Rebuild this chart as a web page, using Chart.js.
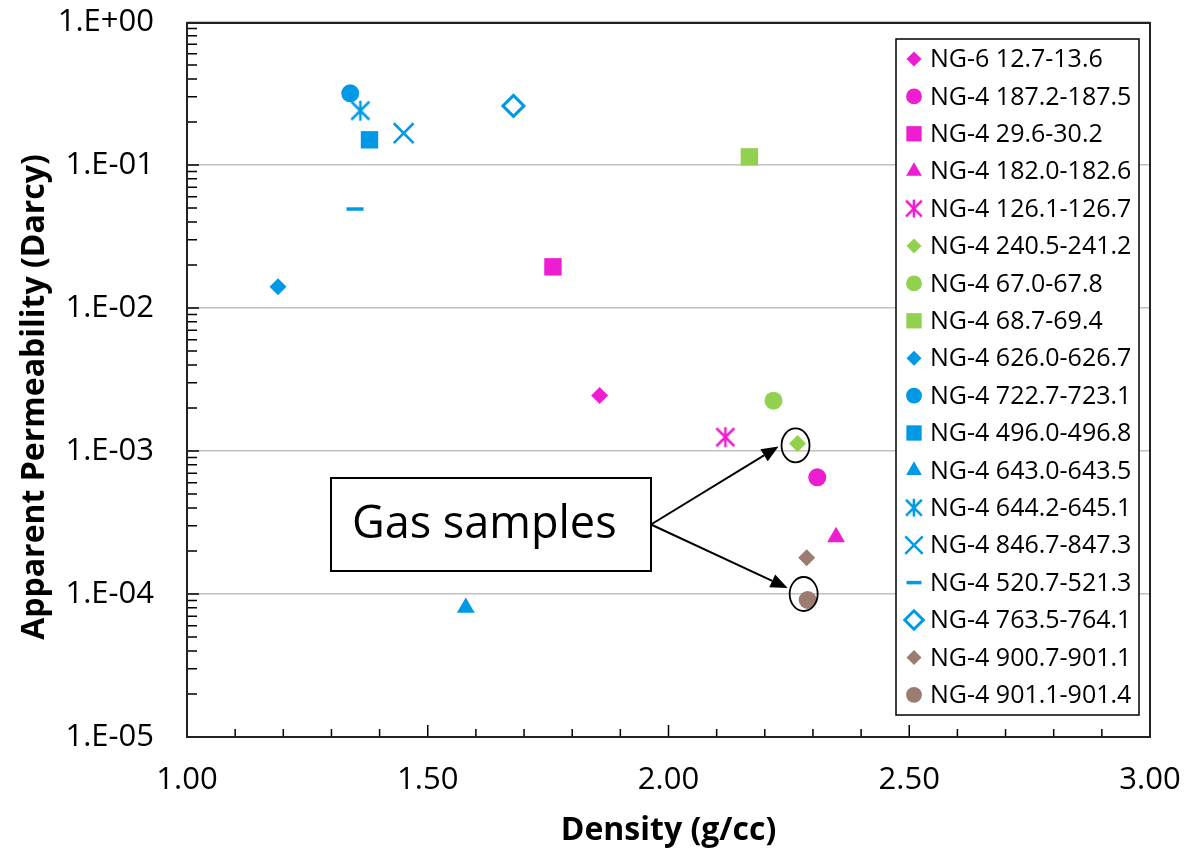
<!DOCTYPE html>
<html>
<head>
<meta charset="utf-8">
<script src="https://cdn.jsdelivr.net/npm/chart.js@4.4.1/dist/chart.umd.min.js"></script>
<style>
  html, body { margin: 0; padding: 0; background: #fff; }
  #wrap { width: 1186px; height: 854px; }
</style>
</head>
<body>
<div id="wrap"><canvas id="permChart" width="1186" height="854"></canvas></div>
<script>
// sample names (legend order)
const sampleLabels = [
  'NG-6 12.7-13.6', 'NG-4 187.2-187.5', 'NG-4 29.6-30.2', 'NG-4 182.0-182.6',
  'NG-4 126.1-126.7', 'NG-4 240.5-241.2', 'NG-4 67.0-67.8', 'NG-4 68.7-69.4',
  'NG-4 626.0-626.7', 'NG-4 722.7-723.1', 'NG-4 496.0-496.8', 'NG-4 643.0-643.5',
  'NG-4 644.2-645.1', 'NG-4 846.7-847.3', 'NG-4 520.7-521.3', 'NG-4 763.5-764.1',
  'NG-4 900.7-901.1', 'NG-4 901.1-901.4'
];
// density (g/cc), one value per sample
const densityValues = [
  1.857, 2.309, 1.760, 2.348, 2.118, 2.268, 2.218, 2.168, 1.189,
  1.339, 1.379, 1.579, 1.360, 1.450, 1.349, 1.678, 2.287, 2.289
];
// apparent permeability (Darcy)
const permValues = [
  0.00244, 0.000655, 0.0194, 0.00025, 0.00125, 0.00113, 0.00225, 0.114, 0.0141,
  0.317, 0.150, 0.0000802, 0.240, 0.167, 0.0492, 0.259, 0.000179, 0.0000908
];
const xTickValues = [1.0, 1.5, 2.0, 2.5, 3.0];
const yTickValues = [1, 0.1, 0.01, 0.001, 0.0001, 0.00001];
const gasSampleIdx = [5, 17];
const annotationText = 'Gas samples';

const MAGENTA = '#EE1DD1', GREEN = '#92D050', BLUE = '#0099E6', BROWN = '#9C7B70';
const markerStyles = [
  [MAGENTA, 'diamond'], [MAGENTA, 'circle'], [MAGENTA, 'square'], [MAGENTA, 'triangle'],
  [MAGENTA, 'asterisk'], [GREEN, 'diamond'], [GREEN, 'circle'], [GREEN, 'square'],
  [BLUE, 'diamond'], [BLUE, 'circle'], [BLUE, 'square'], [BLUE, 'triangle'],
  [BLUE, 'asterisk'], [BLUE, 'cross'], [BLUE, 'dash'], [BLUE, 'openDiamond'],
  [BROWN, 'diamond'], [BROWN, 'circle']
];

// 6-armed asterisk like the excel "star" marker
function asteriskImage(color, size) {
  const c = document.createElement('canvas');
  c.width = Math.ceil(size + 4);
  c.height = Math.ceil(size + 4);
  const g = c.getContext('2d');
  const o = 2, s = size;
  g.strokeStyle = color;
  g.lineWidth = 2.5;
  g.beginPath();
  g.moveTo(o, o); g.lineTo(o + s, o + s);
  g.moveTo(o + s, o); g.lineTo(o, o + s);
  g.moveTo(o + s / 2, o - 1); g.lineTo(o + s / 2, o + s + 1);
  g.stroke();
  return c;
}

function pointOpts(color, shape, k) {
  const base = { backgroundColor: color, borderColor: color, borderWidth: 0, rotation: 0 };
  switch (shape) {
    case 'diamond': return { ...base, pointStyle: 'rectRot', radius: 8.5 * k };
    case 'circle': return { ...base, pointStyle: 'circle', radius: 9 * k };
    case 'square': return { ...base, pointStyle: 'rect', radius: 12.3 * k };
    case 'triangle': return { ...base, pointStyle: 'triangle', radius: 10.3 * k };
    case 'asterisk': return { ...base, pointStyle: asteriskImage(color, 18 * k), radius: 9 * k };
    case 'cross': return { ...base, pointStyle: 'crossRot', radius: 14 * k, borderWidth: 2.5 };
    case 'dash': return { ...base, pointStyle: 'line', radius: 8.5 * k, borderWidth: 3.5 };
    case 'openDiamond': return { ...base, pointStyle: 'rectRot', radius: 10.5 * k, backgroundColor: '#fff', borderWidth: 3 };
  }
}

function fmtExp(v) {
  const e = Math.round(Math.log10(v));
  return '1.E' + (e >= 0 ? '+' : '-') + String(Math.abs(e)).padStart(2, '0');
}

const datasets = sampleLabels.map((label, i) => {
  const p = pointOpts(markerStyles[i][0], markerStyles[i][1], 1);
  return {
    label: label,
    data: [{ x: densityValues[i], y: permValues[i] }],
    pointStyle: p.pointStyle,
    pointRadius: p.radius,
    pointHoverRadius: p.radius,
    pointBackgroundColor: p.backgroundColor,
    pointBorderColor: p.borderColor,
    pointBorderWidth: p.borderWidth,
    pointHoverBorderWidth: p.borderWidth,
    showLine: false
  };
});

const framePlugin = {
  id: 'frame',
  beforeDatasetsDraw(chart) {
    const { ctx, chartArea: a, scales } = chart;
    ctx.save();
    ctx.strokeStyle = '#000';
    ctx.lineWidth = 1.5;
    ctx.beginPath();
    // minor ticks on the y axis (inside)
    for (let d = -5; d < 0; d++) {
      for (let m = 2; m <= 9; m++) {
        const y = scales.y.getPixelForValue(m * Math.pow(10, d));
        ctx.moveTo(a.left, y); ctx.lineTo(a.left + 10, y);
      }
      if (d > -5) {
        const y = scales.y.getPixelForValue(Math.pow(10, d));
        ctx.moveTo(a.left, y); ctx.lineTo(a.left + 12, y);
      }
    }
    // ticks on the x axis (inside)
    for (let t = 11; t < 30; t++) {
      const x = scales.x.getPixelForValue(t / 10);
      const len = t % 5 === 0 ? 12 : 8;
      ctx.moveTo(x, a.bottom); ctx.lineTo(x, a.bottom - len);
    }
    ctx.stroke();
    ctx.lineWidth = 2;
    ctx.strokeStyle = '#222';
    ctx.strokeRect(a.left, a.top + 1, a.right - a.left, a.bottom - a.top - 1);
    ctx.restore();
  },
  afterDraw(chart) {
    const { ctx, scales } = chart;
    ctx.save();

    // y axis title, drawn by hand so it can sit a bit lower like the original
    ctx.save();
    ctx.translate(35, 397);
    ctx.rotate(-Math.PI / 2);
    ctx.fillStyle = '#000';
    ctx.font = 'bold 32px "Open Sans"';
    ctx.textAlign = 'center';
    ctx.textBaseline = 'middle';
    ctx.fillText('Apparent Permeability (Darcy)', 0, 0);
    ctx.restore();

    // annotation: box, ellipses and arrows
    const box = { l: 331, t: 478, r: 651, b: 571 };
    ctx.fillStyle = '#fff';
    ctx.fillRect(box.l, box.t, box.r - box.l, box.b - box.t);
    ctx.strokeStyle = '#000';
    ctx.lineWidth = 2;
    ctx.strokeRect(box.l, box.t, box.r - box.l, box.b - box.t);
    ctx.fillStyle = '#000';
    ctx.font = '45px "Open Sans"';
    ctx.textBaseline = 'alphabetic';
    ctx.textAlign = 'left';
    ctx.fillText(annotationText, 352, 538);

    const shifts = [[-2, 2, -17, 1], [-4, -6, -16, -6]];
    const start = { x: box.r, y: (box.t + box.b) / 2 };
    gasSampleIdx.forEach((idx, k) => {
      const cx = scales.x.getPixelForValue(densityValues[idx]) + shifts[k][0];
      const cy = scales.y.getPixelForValue(permValues[idx]) + shifts[k][1];
      ctx.lineWidth = 1.8;
      ctx.beginPath();
      ctx.ellipse(cx, cy, 14, 17, 0, 0, Math.PI * 2);
      ctx.stroke();
      const tx = cx + shifts[k][2], ty = cy + shifts[k][3];
      const ang = Math.atan2(ty - start.y, tx - start.x);
      const hl = 17, hw = 7;
      const bx = tx - hl * Math.cos(ang), by = ty - hl * Math.sin(ang);
      ctx.lineWidth = 2;
      ctx.beginPath();
      ctx.moveTo(start.x, start.y);
      ctx.lineTo(bx, by);
      ctx.stroke();
      ctx.beginPath();
      ctx.moveTo(tx, ty);
      ctx.lineTo(bx + hw * Math.sin(ang), by - hw * Math.cos(ang));
      ctx.lineTo(bx - hw * Math.sin(ang), by + hw * Math.cos(ang));
      ctx.closePath();
      ctx.fill();
    });

    // legend inside the plot
    const lg = { l: 896, t: 39, r: 1139, b: 715 };
    ctx.fillStyle = '#fff';
    ctx.fillRect(lg.l, lg.t, lg.r - lg.l, lg.b - lg.t);
    ctx.strokeStyle = '#000';
    ctx.lineWidth = 1.5;
    ctx.strokeRect(lg.l, lg.t, lg.r - lg.l, lg.b - lg.t);
    ctx.font = '25px "Open Sans"';
    ctx.textBaseline = 'middle';
    sampleLabels.forEach((label, i) => {
      const y = 59 + i * 37.4;
      const p = pointOpts(markerStyles[i][0], markerStyles[i][1], 0.88);
      ctx.fillStyle = p.backgroundColor;
      ctx.strokeStyle = p.borderColor;
      ctx.lineWidth = p.borderWidth;
      Chart.helpers.drawPoint(ctx, p, 914, y);
      ctx.fillStyle = '#000';
      ctx.fillText(label, 930, y + 1);
    });
    ctx.restore();
  }
};

new Chart(document.getElementById('permChart'), {
  type: 'scatter',
  data: { datasets: datasets },
  options: {
    responsive: false,
    animation: false,
    devicePixelRatio: 1,
    layout: { padding: { top: 22, right: 36, left: 0, bottom: 0 } },
    plugins: { legend: { display: false }, tooltip: { enabled: false } },
    scales: {
      x: {
        type: 'linear',
        min: 1, max: 3,
        afterBuildTicks: s => { s.ticks = xTickValues.map(v => ({ value: v })); },
        afterFit: s => { s.height = 117; s.paddingLeft = 0; s.paddingRight = 0; },
        grid: { display: false, drawTicks: false },
        border: { display: false },
        ticks: {
          font: { family: 'Open Sans', size: 31 },
          color: '#000',
          padding: 25,
          maxRotation: 0,
          autoSkip: false,
          callback: v => Number(v).toFixed(2)
        },
        title: {
          display: true,
          text: 'Density (g/cc)',
          color: '#000',
          font: { family: 'Open Sans', size: 32, weight: 'bold' },
          padding: { top: 0, bottom: 4 }
        }
      },
      y: {
        type: 'logarithmic',
        min: 0.00001, max: 1,
        afterBuildTicks: s => { s.ticks = yTickValues.map(v => ({ value: v })); },
        afterFit: s => { s.width = 187; s.paddingTop = 0; s.paddingBottom = 0; },
        grid: { color: '#C0C0C0', lineWidth: 1.5, drawTicks: false },
        border: { display: false },
        ticks: {
          font: { family: 'Open Sans', size: 31 },
          color: '#000',
          padding: 33,
          autoSkip: false,
          callback: v => fmtExp(v)
        },
        title: { display: false }
      }
    }
  },
  plugins: [framePlugin]
});
</script>
</body>
</html>
